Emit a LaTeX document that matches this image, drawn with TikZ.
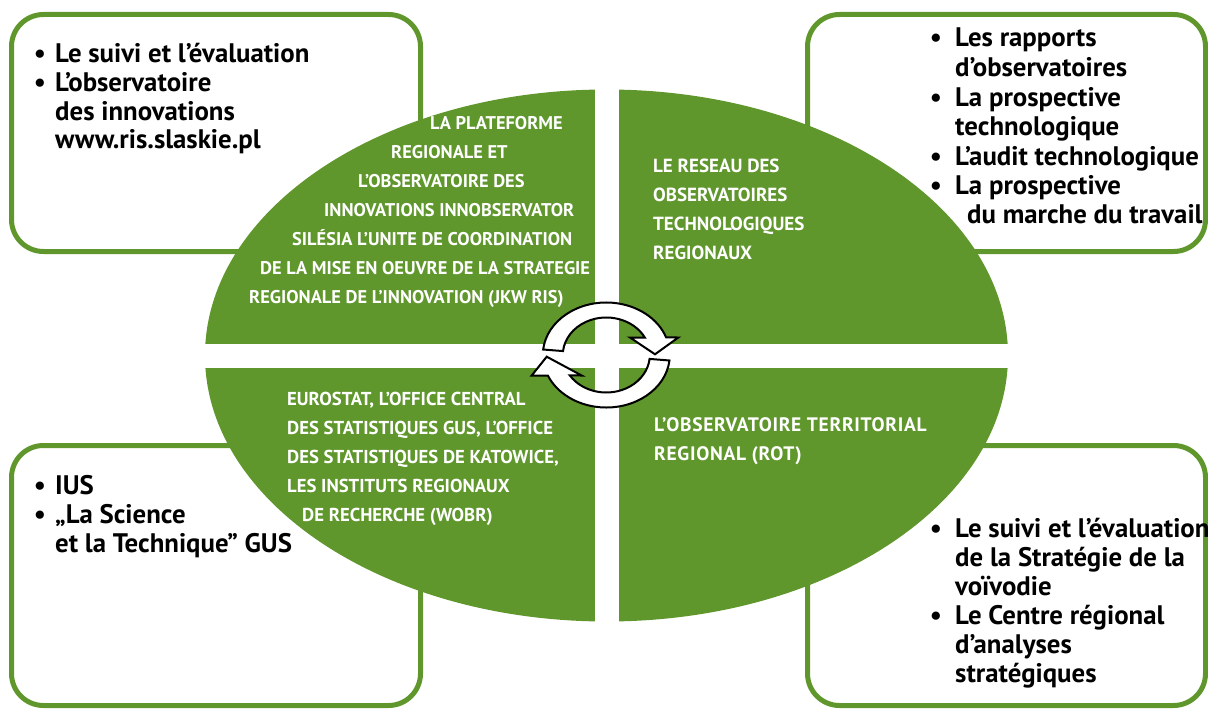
\documentclass[tikz,border=0pt]{standalone}
\usepackage{fontspec}
\setmainfont{PT Sans}
\usetikzlibrary{calc}
\definecolor{leaf}{RGB}{96,151,45}
\tikzset{
  frame/.style={draw=leaf, line width=5pt, rounded corners=32pt},
  blk/.style={anchor=base west, inner sep=0pt, font=\fontsize{26.8}{29}\selectfont\bfseries, text=black},
  dot/.style={anchor=base, inner sep=0pt, font=\fontsize{26.8}{29}\selectfont\bfseries, text=black},
  wht/.style={anchor=base west, inner sep=0pt, font=\fontsize{18.4}{29}\selectfont\bfseries, text=white},
  whtb/.style={wht, font=\fontsize{19}{29}\selectfont\bfseries},
  whtc/.style={wht, font=\fontsize{18.7}{29}\selectfont\bfseries},
  whtd/.style={wht, font=\fontsize{19.5}{29}\selectfont\bfseries\addfontfeatures{LetterSpace=3.5}},
  cyc/.style={draw=black, fill=white, line width=2pt, line join=miter}
}
\begin{document}
\begin{tikzpicture}[x=1pt,y=-1pt]
\useasboundingbox (0,0) rectangle (1208,709);

% corner frames
\draw[frame] (11.5,14.5) rectangle (420.5,251.5);
\draw[frame] (807.5,14.5) rectangle (1205.5,251.5);
\draw[frame] (11.5,445.5) rectangle (420.5,705.5);
\draw[frame] (807.5,445.5) rectangle (1205.5,705.5);

% split ellipse
\fill[leaf] (606.5,355.5) ellipse [x radius=401.5, y radius=266];
\fill[white] (594.5,80) rectangle (618.5,632);
\fill[white] (195,343.5) rectangle (1018,367.5);

% cycle arrows
\coordinate (C) at (606.3,355);
\draw[cyc] ($(C)+(186:63.5 and 52.5)$) arc[start angle=186, end angle=340.5, x radius=63.5, y radius=52.5]
  -- (678.3,337.5) -- (655,354.3) -- (630,337.5)
  -- ($(C)+(332.2:43.5 and 37.5)$) arc[start angle=332.2, end angle=186, x radius=43.5, y radius=37.5] -- cycle;
\draw[cyc] ($(C)+(6:63.5 and 52.5)$) arc[start angle=6, end angle=157, x radius=63.5, y radius=52.5]
  -- (531.7,375.5) -- (546.7,356.7) -- (581.7,375.5)
  -- ($(C)+(146.9:43.5 and 37.5)$) arc[start angle=146.9, end angle=6, x radius=43.5, y radius=37.5] -- cycle;

% upper left quarter
\node[wht] (q1a) at (430,129.3) {LA PLATEFORME};
\node[wht] (q1b) at (391,158.3) {REGIONALE ET};
\node[wht] (q1c) at (358,187.3) {L’OBSERVATOIRE DES};
\node[wht] (q1d) at (324,216) {INNOVATIONS INNOBSERVATOR};
\node[wht] (q1e) at (292,245) {SILÉSIA L’UNITE DE COORDINATION};
\node[wht] (q1f) at (260,274) {DE LA MISE EN OEUVRE DE LA STRATEGIE};
\node[wht] (q1g) at (249,303.3) {REGIONALE DE L’INNOVATION (JKW RIS)};

% upper right quarter
\node[whtb] (q2a) at (653,172) {LE RESEAU DES};
\node[whtb] (q2b) at (653,201) {OBSERVATOIRES};
\node[whtb] (q2c) at (653,230.5) {TECHNOLOGIQUES};
\node[whtb] (q2d) at (653,259.5) {REGIONAUX};

% lower left quarter
\node[whtc] (q3a) at (287,405) {EUROSTAT, L’OFFICE CENTRAL};
\node[whtc] (q3b) at (287,434) {DES STATISTIQUES GUS, L’OFFICE};
\node[whtc] (q3c) at (287,463) {DES STATISTIQUES DE KATOWICE,};
\node[whtc] (q3d) at (287,492) {LES INSTITUTS REGIONAUX};
\node[whtc] (q3e) at (302,521) {DE RECHERCHE (WOBR)};

% lower right quarter
\node[whtd] (q4a) at (654,431.7) {L’OBSERVATOIRE TERRITORIAL};
\node[whtd] (q4b) at (654,460) {REGIONAL (ROT)};

% top left list
\node[dot] (b1a) at (40,63) {•};
\node[blk] (t1a) at (55,63) {Le suivi et l’évaluation};
\node[dot] (b1b) at (40,91.5) {•};
\node[blk] (t1b) at (55,91.5) {L’observatoire};
\node[blk] (t1c) at (55,120) {des innovations};
\node[blk] (t1d) at (55,148.5) {www.ris.slaskie.pl};

% top right list
\node[dot] (b2a) at (936,47) {•};
\node[blk] (t2a) at (955,47) {Les rapports};
\node[blk] (t2b) at (955,77) {d’observatoires};
\node[dot] (b2c) at (936,106.5) {•};
\node[blk] (t2c) at (955,106.5) {La prospective};
\node[blk] (t2d) at (955,135.5) {technologique};
\node[dot] (b2e) at (936,165) {•};
\node[blk] (t2e) at (955,165) {L’audit technologique};
\node[dot] (b2f) at (936,194) {•};
\node[blk] (t2f) at (955,194) {La prospective};
\node[blk] (t2g) at (967,223) {du marche du travail};

% bottom left list
\node[dot] (b3a) at (40,494) {•};
\node[blk] (t3a) at (55,494) {IUS};
\node[dot] (b3b) at (40,523) {•};
\node[blk] (t3b) at (55,523) {„La Science};
\node[blk] (t3c) at (55,552) {et la Technique” GUS};

% bottom right list
\node[dot] (b4a) at (936,537) {•};
\node[blk] (t4a) at (955,537) {Le suivi et l’évaluation};
\node[blk] (t4b) at (955,566) {de la Stratégie de la};
\node[blk] (t4c) at (955,595) {voïvodie};
\node[dot] (b4d) at (936,624) {•};
\node[blk] (t4d) at (955,624) {Le Centre régional};
\node[blk] (t4e) at (955,653) {d’analyses};
\node[blk] (t4f) at (955,682) {stratégiques};
\end{tikzpicture}
\end{document}
